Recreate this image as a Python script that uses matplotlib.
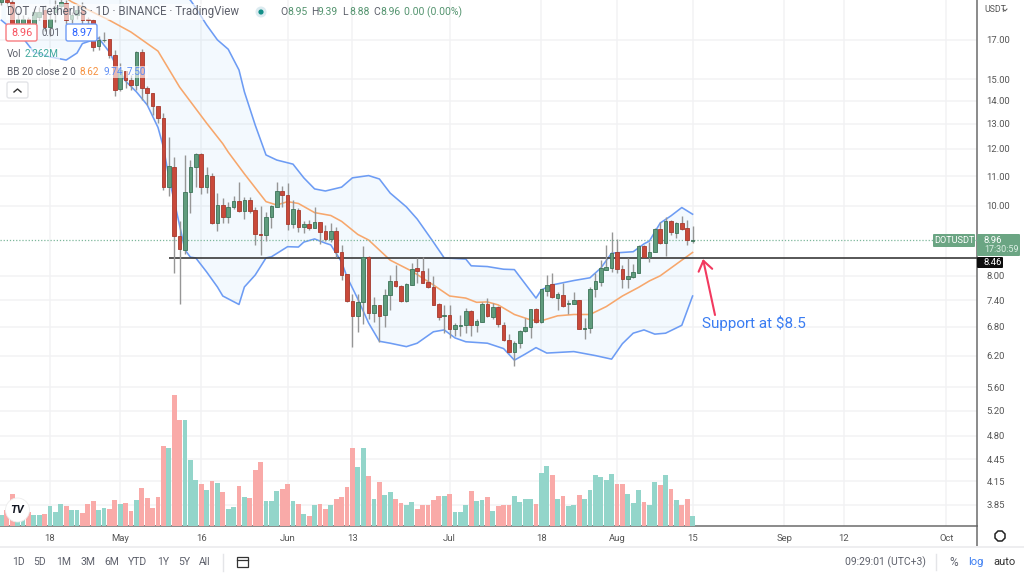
import numpy as np
import matplotlib
matplotlib.use("Agg")
import matplotlib.pyplot as plt
from matplotlib.patches import FancyBboxPatch, Rectangle, Circle

plt.rcParams['font.family'] = ['Roboto', 'DejaVu Sans']

# days counted from 18 Apr, one candle per day from t=-9 to t=119
first_day = -9
opens = [19.2,19.3,19.2,17.9,17.9,18.2,17.9,18.3,18.7,17.7,
         18.6,18.95,19.1,18.15,18.4,18.7,18.15,18.1,16.67,16.97,
         17.03,16.2,14.52,15.4,14.96,14.7,16.37,14.57,14.33,13.76,
         13.25,10.62,11.34,9.08,8.69,10.44,11.32,11.81,10.62,11.02,
         9.48,10.03,9.64,9.98,10.16,9.85,10.19,9.87,9.14,9.1,
         9.64,9.98,10.48,10.36,9.44,9.87,9.36,9.45,9.33,9.5,
         9.23,8.99,9.23,8.64,8.04,7.39,7.04,7.35,8.5,7.11,
         7.29,7.05,7.52,7.88,7.74,7.38,7.78,8.19,8.13,7.84,
         7.73,7.3,7.04,7.05,6.75,6.82,6.84,7.15,6.83,6.91,
         7.3,7.02,7.25,6.84,6.52,6.28,6.45,6.71,6.79,7.19,
         6.9,7.63,7.79,7.46,7.52,7.3,7.31,7.4,6.75,6.77,
         7.67,7.85,8.16,8.2,8.63,8.18,7.91,7.98,8.08,8.79,
         8.49,8.64,9.28,8.87,9.53,9.18,9.48,9.31,8.95]
highs = [19.8,19.35,19.3,18.6,18.4,18.3,18.8,18.9,19.0,18.7,
         19.3,19.4,19.3,18.6,19.0,19.2,18.3,18.2,17.2,17.45,
         17.03,16.46,15.8,15.4,15.2,16.4,16.5,14.65,14.33,13.76,
         13.47,12.48,11.68,9.54,11.78,11.58,11.86,11.84,11.34,11.1,
         10.41,10.25,10.14,10.32,10.81,10.28,10.3,9.98,10.0,9.8,
         10.03,10.79,10.66,10.75,10.19,9.93,9.54,9.56,9.96,9.51,
         9.41,9.48,9.36,8.83,8.04,7.56,7.56,8.79,8.52,7.48,
         7.29,7.68,8.02,8.28,7.77,7.81,8.33,8.46,8.49,8.2,
         7.99,7.33,7.29,7.29,6.88,7.06,7.21,7.17,6.96,7.36,
         7.46,7.34,7.27,6.91,6.64,6.5,6.73,6.99,7.19,7.21,
         7.68,8.02,8.07,7.6,7.83,7.4,7.6,7.4,6.99,7.73,
         8.07,8.41,8.83,9.21,8.99,8.28,8.46,8.31,8.83,8.83,
         8.92,9.31,9.51,9.66,9.56,9.51,9.69,9.56,9.39]
lows = [19.0,18.9,17.8,17.7,17.6,17.7,17.8,18.1,17.5,17.2,
        18.0,18.6,17.9,17.95,18.2,17.9,17.9,16.42,16.46,16.88,
        16.03,14.2,14.45,14.6,14.49,14.49,14.03,13.81,13.37,13.05,
        10.52,10.32,8.07,7.31,8.58,9.77,10.62,10.39,10.43,9.44,
        9.24,9.46,9.46,9.9,9.82,9.58,9.77,8.83,8.55,8.95,
        9.33,9.96,9.96,9.26,9.31,9.21,9.16,9.26,9.31,8.85,
        8.95,8.91,8.5,7.89,7.36,6.37,6.69,6.86,6.97,6.91,
        6.48,6.79,7.17,7.72,7.35,7.35,7.77,7.81,7.81,7.69,
        7.29,6.95,6.66,6.55,6.6,6.61,6.67,6.61,6.68,6.9,
        7.02,6.97,6.8,6.5,6.25,6.0,6.35,6.69,6.56,6.88,
        6.89,7.5,7.45,7.17,7.25,7.07,7.31,6.74,6.54,6.66,
        7.47,7.74,8.15,8.1,8.07,7.69,7.69,7.94,8.07,8.49,
        8.35,8.64,8.85,8.53,9.11,9.03,9.26,8.83,8.88]
closes = [19.4,19.2,17.9,18.2,18.2,17.9,18.6,18.6,17.7,18.2,
          18.9,19.2,18.1,18.4,18.7,18.1,18.1,16.63,16.97,17.0,
          16.2,14.5,15.44,14.96,14.7,16.37,14.57,14.33,13.76,13.25,
          10.62,11.36,9.08,8.71,10.44,11.32,11.81,10.62,11.04,9.48,
          10.03,9.64,9.98,10.16,9.85,10.19,9.85,9.13,9.1,9.66,
          10.0,10.48,10.34,9.44,9.9,9.36,9.44,9.33,9.5,9.21,
          8.99,9.23,8.64,8.02,7.39,7.04,7.35,8.49,7.11,7.29,
          7.04,7.52,7.87,7.75,7.38,7.79,8.18,8.13,7.83,7.71,
          7.29,7.02,7.06,6.75,6.83,6.84,7.15,6.84,6.92,7.3,
          7.04,7.25,6.85,6.52,6.27,6.46,6.71,6.8,7.19,6.9,
          7.66,7.78,7.47,7.54,7.27,7.33,7.4,6.75,6.77,7.68,
          7.86,8.2,8.22,8.6,8.17,7.91,8.0,8.09,8.8,8.5,
          8.64,9.28,8.87,9.53,9.2,9.48,9.3,8.96,8.96]
volumes = [2.41,3.54,7.31,2.41,2.04,3.17,2.56,2.41,2.79,4.60,
           3.24,5.05,4.45,3.54,3.54,2.94,5.05,5.58,3.69,4.0,
           3.92,5.81,4.9,5.13,3.39,5.96,8.67,6.41,4.07,6.64,
           18.1,17.64,29.7,23.9,24.05,14.85,10.33,9.43,8.14,10.18,
           9.65,7.77,3.92,4.22,8.97,6.64,6.41,12.74,14.55,5.58,
           5.58,7.99,8.29,9.5,5.58,4.9,2.71,2.34,4.75,4.9,
           3.77,4.75,6.11,6.48,8.82,17.57,13.27,17.57,11.31,6.03,
           10.03,7.01,7.69,6.18,5.2,4.67,5.35,3.85,4.67,4.67,
           5.88,6.71,6.71,7.24,3.17,3.17,4.83,7.92,5.66,5.88,
           6.56,3.47,4.52,4.83,4.67,6.71,5.5,6.03,6.18,4.98,
           11.99,13.65,11.61,6.03,6.86,4.52,4.67,7.01,6.18,8.07,
           11.46,11.08,10.41,11.76,9.43,9.58,7.24,5.2,8.07,5.5,
           4.67,9.95,9.27,11.46,8.37,5.88,4.83,6.03,2.262]

# bollinger bands, read at the bends of each line
upper_days = [-9,10,20,25,26,27,29,31,33,35,36,38,40,42,45,47,49,51,54,56,59,61,63,66,68,71,73,77,78,81,84,86,90,91,93,97,100,102,104,108,110,111,113,115,117,119]
upper_vals = [23,22,21,19.6,19.3,18.83,17.83,17.0,16.5,15.44,14.4,12.95,11.77,11.58,11.43,10.94,10.56,10.49,10.62,10.94,11.02,10.9,10.42,9.97,9.59,8.91,8.47,8.44,8.26,8.24,8.17,8.16,7.45,7.65,7.77,7.88,7.95,8.2,8.6,8.64,8.86,8.94,9.47,9.69,9.95,9.74]
lower_days = [-9,-5,-3,0,3,5,6,9,11,12,14,16,18,20,21,22,23,25,26,27,29,31,32,35,36,38,40,41,44,46,47,49,51,52,54,55,57,59,61,63,66,68,71,73,75,77,81,84,86,88,90,92,97,101,104,106,108,110,112,114,117,119]
lower_vals = [18.1,17.1,16.35,16.1,15.94,16.3,16.8,17.1,16.35,15.8,14.9,14.4,13.81,12.85,12.07,10.97,10.16,8.69,8.49,8.47,8.1,7.72,7.5,7.3,7.72,8.02,8.47,8.5,8.78,8.77,8.91,9.0,8.88,8.83,8.36,7.97,7.43,6.88,6.49,6.45,6.38,6.45,6.69,6.73,6.56,6.48,6.45,6.34,6.11,6.23,6.36,6.25,6.28,6.2,6.13,6.44,6.66,6.73,6.64,6.66,6.83,7.5]
basis_days = [-9,0,4,11,15,20,24,29,32,33,36,40,42,44,46,49,52,54,57,59,63,67,71,74,77,79,81,83,86,89,91,94,97,100,103,106,109,111,113,117,119]
basis_vals = [21,20.1,19.2,18.1,17.43,16.4,14.62,13.03,12.2,11.88,11.08,10.14,10.03,10.14,10.08,9.79,9.7,9.52,9.13,8.97,8.41,8.12,7.77,7.5,7.45,7.35,7.36,7.29,7.07,6.95,6.93,7.04,7.07,7.07,7.25,7.5,7.71,7.87,8.0,8.41,8.62]

price_ticks = [17,15,14,13,12,11,10,8,7.4,6.8,6.2,5.6,5.2,4.8,4.45,4.15,3.85]
time_ticks = [0,13,28,44,56,74,91,105,119,136,147,166]
time_labels = ['18','May','16','Jun','13','Jul','18','Aug','15','Sep','12','Oct']
last_price = 8.96
support_price = 8.46
support_start = 22.1
range_buttons = ['1D','5D','1M','3M','6M','YTD','1Y','5Y','All']

grey = '#5d606b'
up_body, up_edge = '#5f9c7d', '#3d7358'
down_body, down_edge = '#c9493a', '#a63a2e'

days = first_day + np.arange(len(opens))
opens = np.array(opens)
closes = np.array(closes)
up = closes >= opens

fig = plt.figure(figsize=(10.24, 5.76), dpi=100, facecolor='white')
ax = fig.add_axes([0, 50/576, 977/1024, 526/576])
ax.set_yscale('log')
ax.set_xlim(-50/5.4, 927/5.4)
ax.set_ylim(3.597, 19.31)
ax.grid(True, color='#f2f2f4', lw=1.1)
ax.set_axisbelow(True)

# volume sits on its own scale at the bottom
ax_vol = ax.twinx()
ax_vol.set_ylim(0, 526 * 0.2262)
ax_vol.set_xlim(ax.get_xlim())
ax_vol.bar(days, volumes, width=0.88, color=np.where(up, '#93d5ca', '#f9aaa8'))
ax_vol.set_axis_off()

# bands on the same price scale as the candles, above the volume
ax_top = ax.twinx()
ax_top.set_yscale('log')
ax_top.set_ylim(ax.get_ylim())
ax_top.set_xlim(ax.get_xlim())
ax_top.set_axis_off()
ax_top.fill(np.r_[upper_days, lower_days[::-1]], np.r_[upper_vals, lower_vals[::-1]],
            color='#2196f3', alpha=0.05, lw=0)
ax_top.plot(upper_days, upper_vals, color='#6d9cf4', lw=1.15)
ax_top.plot(lower_days, lower_vals, color='#6d9cf4', lw=1.15)
ax_top.plot(basis_days, basis_vals, color='#f7a76c', lw=1.15)

ax_top.axhline(last_price, color='#7db79b', lw=0.9, ls=(0, (1, 1.5)))
ax_top.hlines(support_price, support_start, ax.get_xlim()[1], color='#3a3a3a', lw=1.2)

ax_top.vlines(days, lows, highs, color='#969696', lw=1.0, zorder=3)
ax_top.bar(days, np.abs(closes - opens), bottom=np.minimum(opens, closes), width=0.7,
           color=np.where(up, up_body, down_body), edgecolor=np.where(up, up_edge, down_edge),
           lw=0.6, zorder=4)

# twinx puts the main ticks on the left, so set them after it
ax.yaxis.tick_right()
ax.set_yticks(price_ticks)
ax.set_yticklabels(['%.2f' % p for p in price_ticks])
ax.minorticks_off()
ax.set_xticks(time_ticks)
ax.set_xticklabels(time_labels)
ax.tick_params(length=0, labelsize=6.8, labelcolor='#555555', pad=6)
ax.tick_params(axis='y', pad=7)
for side in ['top', 'left']:
    ax.spines[side].set_visible(False)
for side in ['right', 'bottom']:
    ax.spines[side].set_color('#6b6b6b')
    ax.spines[side].set_linewidth(1.1)

# everything below is the TradingView interface, placed in screen pixels
ui = fig.add_axes([0, 0, 1, 1], facecolor='none')
ui.set_xlim(0, 1024)
ui.set_ylim(576, 0)
ui.set_axis_off()

halo = dict(fc='white', alpha=0.62, ec='none', pad=1)
ui.text(7, 12, 'DOT / TetherUS · 1D · BINANCE · TradingView', fontsize=8.3, color=grey, va='center', bbox=halo)
ui.add_patch(Circle((261, 12), 5.5, fc='#dcebf0', ec='none'))
ui.add_patch(Circle((261, 12), 2.6, fc='#138f88', ec='none'))
for x, letter, value in [(280, 'O', '8.95'), (311, 'H', '9.39'), (342, 'L', '8.88'), (373, 'C', '8.96')]:
    ui.text(x, 12, letter, fontsize=7.5, color=grey, va='center')
    ui.text(x + 7, 12, value, fontsize=7.5, color='#54946f', va='center')
ui.text(404, 12, '0.00 (0.00%)', fontsize=7.5, color='#54946f', va='center')

for x0, w, col, label in [(6, 31, '#f77c80', '8.96'), (66, 31, '#6f9bf5', '8.97')]:
    ui.add_patch(FancyBboxPatch((x0 + 2, 26), w - 4, 13, boxstyle='round,pad=2', fc='white', ec=col, lw=1))
    ui.text(x0 + w / 2, 33, label, fontsize=7.8, color='#f7525f' if x0 == 6 else '#2962ff', ha='center', va='center')
ui.text(51, 33, '0.01', fontsize=7, color=grey, ha='center', va='center')

ui.text(7, 54, 'Vol', fontsize=7.2, color=grey, va='center', bbox=halo)
ui.text(25, 54, '2.262M', fontsize=7.2, color='#3fa89d', va='center', bbox=halo)
ui.text(7, 72, 'BB 20 close 2 0', fontsize=7.2, color=grey, va='center', bbox=halo)
ui.text(79, 72, '8.62', fontsize=7.2, color='#f6913f', va='center', bbox=halo)
ui.text(103, 72, '9.74', fontsize=7.2, color='#5b8cf5', va='center', bbox=halo)
ui.text(127, 72, '7.50', fontsize=7.2, color='#5b8cf5', va='center', bbox=halo)
ui.add_patch(FancyBboxPatch((9, 84), 17, 12, boxstyle='round,pad=2', fc='white', ec='#e3e4e8', lw=1))
ui.plot([14, 17.5, 21], [92, 89, 92], color='#333333', lw=1)

# right price scale
ui.text(984, 10, 'USDT', fontsize=6.3, color='#555555', va='center')
ui.plot([1003, 1005, 1007], [9, 11, 9], color='#555555', lw=0.7)
ui.add_patch(FancyBboxPatch((934, 235), 40, 11, boxstyle='round,pad=1', fc='#6ba583', ec='none'))
ui.text(954, 240.5, 'DOTUSDT', fontsize=6.6, color='white', ha='center', va='center')
ui.add_patch(FancyBboxPatch((978, 235), 41, 20, boxstyle='round,pad=1', fc='#6ba583', ec='none'))
ui.text(984, 240.5, '8.96', fontsize=6.8, color='white', va='center')
ui.text(984, 250, '17:30:59', fontsize=6.5, color='#dcefe4', va='center')
ui.add_patch(FancyBboxPatch((978, 258), 24, 9, boxstyle='round,pad=1', fc='#0d0d0d', ec='none'))
ui.text(984, 262.5, '8.46', fontsize=6.8, color='white', va='center')

# annotation drawn on the chart
ui.annotate('', xy=(703, 259), xytext=(715, 315),
            arrowprops=dict(arrowstyle='->,head_length=0.7,head_width=0.5', color='#f2395f', lw=1.5, shrinkA=0, shrinkB=0))
ui.text(702, 323, 'Support at $8.5', fontsize=11, color='#3b7df2', va='center')

# logo
ui.add_patch(Circle((17.5, 510), 12, fc='white', ec='#ececec', lw=0.6))
ui.text(17.5, 510, 'TV', fontsize=8, fontweight='bold', style='italic', color='#131722', ha='center', va='center')

# bottom bar
ui.plot([977, 977], [526, 546], color='#6b6b6b', lw=1.1)
ui.plot([0, 1024], [547, 547], color='#eeeef0', lw=1.4)
ui.plot([1000], [536], marker='8', ms=8.5, mfc='white', mec='#222222', mew=1.1)
for x, label in zip([18, 40, 64, 88, 112, 137, 163, 184, 205], range_buttons):
    ui.text(x, 562, label, fontsize=7.5, color=grey, ha='center', va='center')
ui.plot([223, 223], [554, 571], color='#e4e5e8', lw=1)
ui.add_patch(Rectangle((237, 557), 11, 10, fc='none', ec='#333333', lw=0.9))
ui.plot([237, 248], [560, 560], color='#333333', lw=0.9)
ui.text(885, 562, '09:29:01 (UTC+3)', fontsize=7.5, color=grey, ha='center', va='center')
ui.plot([936, 936], [554, 570], color='#e4e5e8', lw=1)
ui.text(954, 562, '%', fontsize=8.5, color=grey, ha='center', va='center')
ui.text(976, 562, 'log', fontsize=8, color='#3b7df2', ha='center', va='center')
ui.text(1004, 562, 'auto', fontsize=8, color='#333333', ha='center', va='center')

fig.savefig('out.png', dpi=100)
